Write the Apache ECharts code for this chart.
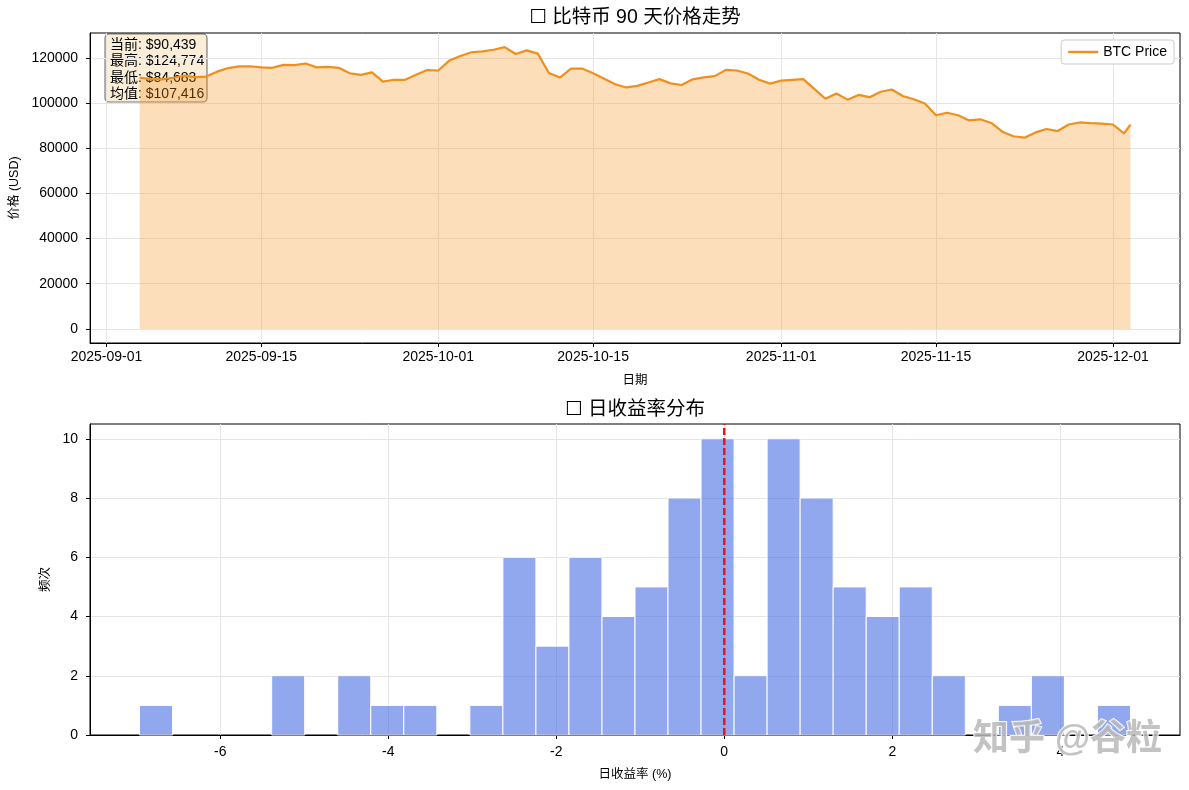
<!DOCTYPE html>
<html><head><meta charset="utf-8">
<script src="https://cdn.jsdelivr.net/npm/echarts@6/dist/echarts.min.js"></script>
<style>html,body{margin:0;padding:0;background:#fff}#c{width:1189px;height:790px}</style>
</head><body><div id="c"></div>
<script>
// ---------- data ----------
const startDate = '2025-09-04';          // first daily close
const lastTimestamp = '2025-12-02T14:00'; // latest (current) price point
const prices = [
  // Sep 4 - Sep 30
  111200,110700,110500,111200,112100,111500,111700,113900,115500,116200,116300,115800,115600,116900,116800,117500,115800,116000,115600,113200,112500,113600,109500,110300,110300,112500,114600,
  // Oct 1 - Oct 31
  114400,118800,120800,122500,122900,123600,124774,121700,123300,121900,113300,111300,115200,115300,113200,110800,108300,106900,107600,109100,110600,108700,108000,110500,111400,111900,114700,114400,113100,110300,108600,
  // Nov 1 - Nov 30
  109900,110300,110600,106300,101900,104200,101500,103600,102600,105000,106000,103100,101700,99800,94600,95700,94600,92300,92800,91200,87300,85300,84683,87000,88500,87600,90500,91400,91100,90900,
  // Dec 1 - Dec 2, current
  90500,86600,90439
];
const priceTicks = [0,20000,40000,60000,80000,100000,120000];
const dateTicks = ['2025-09-01','2025-09-15','2025-10-01','2025-10-15','2025-11-01','2025-11-15','2025-12-01'];
const statLabels = ['当前','最高','最低','均值'];
const statValues = [90439,124774,84683,107416];

const returnBinMin = -6.96, returnBinMax = 4.835;
const returnCounts = [1,0,0,0,2,0,2,1,1,0,1,6,3,6,4,5,8,10,2,10,8,5,4,5,2,0,1,2,0,1];
const countTicks = [0,2,4,6,8,10];
const returnTicks = [-6,-4,-2,0,2,4];

// ---------- build ----------
const FONT = "'Liberation Sans', Arial, 'Noto Sans CJK SC', 'DejaVu Sans', sans-serif";
const DAY = 86400000;
const t0 = Date.parse(startDate + 'T00:00:00Z');
const times = prices.map((p, i) => i < prices.length - 1 ? t0 + i * DAY : Date.parse(lastTimestamp + ':00Z'));
const priceData = prices.map((p, i) => [times[i], p]);
const tMin = times[0], tMax = times[times.length - 1], tPad = (tMax - tMin) * 0.05;
const pMax = Math.max(...prices), pPad = pMax * 0.05;
const dateTickVals = dateTicks.map(d => Date.parse(d + 'T00:00:00Z'));

const nb = returnCounts.length, bw = (returnBinMax - returnBinMin) / nb;
const histData = returnCounts.map((c, i) => [returnBinMin + i * bw, returnBinMin + (i + 1) * bw, c]).filter(d => d[2] > 0);
const rPad = (returnBinMax - returnBinMin) * 0.05;
const cMax = Math.max(...returnCounts) * 1.05;

const fmt = v => '$' + v.toLocaleString('en-US');

const axisCommon = {
  axisLine: { show: true, onZero: false, lineStyle: { color: '#000', width: 1 } },
  axisTick: { show: true, inside: false, length: 4, lineStyle: { color: '#000' } },
  axisLabel: { color: '#000', fontSize: 14, fontFamily: FONT, margin: 7 },
  splitLine: { show: true, lineStyle: { color: '#e5e5e5', width: 1 } },
  nameTextStyle: { color: '#000', fontSize: 12.5, fontFamily: FONT }
};

const chart = echarts.init(document.getElementById('c'), null, { renderer: 'canvas' });
chart.setOption({
  useUTC: true,
  animation: false,
  backgroundColor: '#fff',
  textStyle: { fontFamily: FONT },
  legend: {
    data: ['BTC Price'], right: 15, top: 40, orient: 'vertical',
    icon: 'rect', itemWidth: 30, itemHeight: 2.5, itemGap: 4,
    backgroundColor: '#fff', borderColor: '#cccccc', borderWidth: 1, borderRadius: 3,
    padding: [5, 7, 5, 7],
    textStyle: { color: '#000', fontSize: 14, fontFamily: FONT }
  },
  grid: [
    { left: 90, right: 9, top: 33, height: 310, show: true, borderColor: '#000', borderWidth: 1, backgroundColor: 'transparent' },
    { left: 90, right: 9, top: 424, height: 311, show: true, borderColor: '#000', borderWidth: 1, backgroundColor: 'transparent' }
  ],
  xAxis: [
    Object.assign({}, axisCommon, {
      type: 'time', gridIndex: 0, min: tMin - tPad, max: tMax + tPad,
      name: '日期', nameLocation: 'middle', nameGap: 31,
      axisLabel: Object.assign({}, axisCommon.axisLabel, { customValues: dateTickVals, formatter: '{yyyy}-{MM}-{dd}', hideOverlap: false }),
      axisTick: Object.assign({}, axisCommon.axisTick, { customValues: dateTickVals })
    }),
    Object.assign({}, axisCommon, {
      type: 'value', gridIndex: 1, min: returnBinMin - rPad, max: returnBinMax + rPad,
      name: '日收益率 (%)', nameLocation: 'middle', nameGap: 33,
      axisLabel: Object.assign({}, axisCommon.axisLabel, { customValues: returnTicks, margin: 10 }),
      axisTick: Object.assign({}, axisCommon.axisTick, { customValues: returnTicks })
    })
  ],
  yAxis: [
    Object.assign({}, axisCommon, {
      type: 'value', gridIndex: 0, min: -pPad, max: pMax + pPad,
      name: '价格 (USD)', nameLocation: 'middle', nameGap: 66, nameRotate: 90,
      axisLabel: Object.assign({}, axisCommon.axisLabel, { customValues: priceTicks, formatter: v => String(v), margin: 12 }),
      axisTick: Object.assign({}, axisCommon.axisTick, { customValues: priceTicks })
    }),
    Object.assign({}, axisCommon, {
      type: 'value', gridIndex: 1, min: 0, max: cMax,
      name: '频次', nameLocation: 'middle', nameGap: 38, nameRotate: 90,
      axisLabel: Object.assign({}, axisCommon.axisLabel, { customValues: countTicks, margin: 12 }),
      axisTick: Object.assign({}, axisCommon.axisTick, { customValues: countTicks })
    })
  ],
  series: [
    {
      name: 'BTC Price', type: 'line', xAxisIndex: 0, yAxisIndex: 0,
      data: priceData, showSymbol: false, symbol: 'none',
      lineStyle: { color: '#ee8f1e', width: 2.2 },
      itemStyle: { color: '#ee8f1e' },
      areaStyle: { color: 'rgba(247,147,26,0.3)', opacity: 1, origin: 'auto' },
      z: 3
    },
    {
      name: 'hist', type: 'custom', xAxisIndex: 1, yAxisIndex: 1,
      data: histData,
      renderItem: function (params, api) {
        const p1 = api.coord([api.value(0), api.value(2)]);
        const p2 = api.coord([api.value(1), 0]);
        return {
          type: 'rect',
          shape: { x: p1[0], y: p1[1], width: p2[0] - p1[0], height: p2[1] - p1[1] },
          style: { fill: 'rgba(65,105,225,0.58)', stroke: '#fff', lineWidth: 1 }
        };
      },
      z: 2
    },
    {
      name: 'zero', type: 'line', xAxisIndex: 1, yAxisIndex: 1,
      data: [[0, 0], [0, cMax]], showSymbol: false, symbol: 'none',
      lineStyle: { color: '#e8141e', width: 2.5, type: [7, 3] },
      z: 4
    }
  ],
  graphic: [
    { type: 'text', x: 635, y: 8, z: 100,
      style: { text: '☐ 比特币 90 天价格走势', fill: '#000', font: '19.5px ' + FONT, align: 'center', verticalAlign: 'top' } },
    { type: 'text', x: 635, y: 400, z: 100,
      style: { text: '☐ 日收益率分布', fill: '#000', font: '19.5px ' + FONT, align: 'center', verticalAlign: 'top' } },
    {
      type: 'group', x: 105, y: 34, z: 100,
      children: [
        { type: 'rect', shape: { x: 0, y: 0, width: 102, height: 68, r: 4 },
          style: { fill: 'rgba(245,222,179,0.5)', stroke: 'rgba(0,0,0,0.5)', lineWidth: 1.2 } }
      ].concat(statLabels.map((l, i) => ({
        type: 'text', x: 5, y: 4 + i * 16.5,
        style: { text: l + ': ' + fmt(statValues[i]), fill: '#000', font: '14px ' + FONT }
      })))
    },
    {
      type: 'text', x: 973, y: 722, z: 100,
      style: { text: '知乎 @谷粒', fill: 'rgba(185,185,185,0.85)', stroke: 'rgba(255,255,255,0.9)', lineWidth: 2,
               font: 'bold 36px ' + FONT }
    }
  ]
});
</script>
</body></html>
